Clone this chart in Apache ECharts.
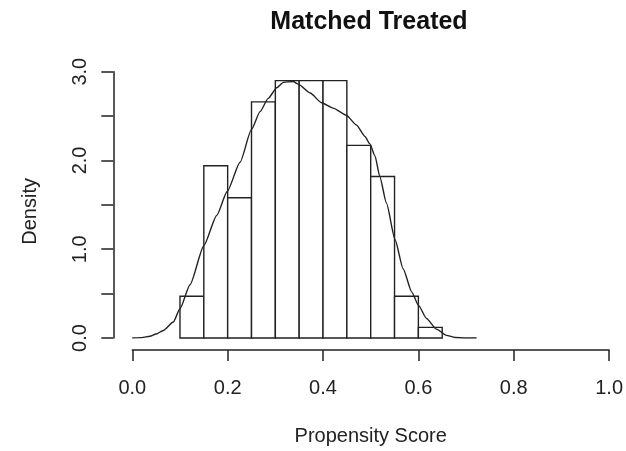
<!DOCTYPE html>
<html>
<head>
<meta charset="utf-8">
<script src="https://cdn.jsdelivr.net/npm/echarts@6/dist/echarts.min.js"></script>
<style>html,body{margin:0;padding:0;background:#fff}#c{width:626px;height:451px}</style>
</head>
<body>
<div id="c"></div>
<script>
// Histogram bins (left edges) and density heights
var binStarts = [0.10, 0.15, 0.20, 0.25, 0.30, 0.35, 0.40, 0.45, 0.50, 0.55, 0.60];
var binWidth = 0.05;
var binDensity = [0.47, 1.94, 1.58, 2.66, 2.90, 2.90, 2.90, 2.17, 1.82, 0.47, 0.12];

// Kernel density curve (x, density)
var curveX = [0.000, 0.020, 0.037, 0.050, 0.065, 0.086, 0.100, 0.121, 0.150, 0.177, 0.199, 0.226, 0.250, 0.268, 0.285, 0.303, 0.317, 0.3375, 0.348, 0.373, 0.397, 0.421, 0.449, 0.470, 0.488, 0.498, 0.509, 0.519, 0.533, 0.551, 0.568, 0.586, 0.600, 0.617, 0.638, 0.659, 0.677, 0.700, 0.722];
var curveY = [0.000, 0.004, 0.020, 0.045, 0.085, 0.18, 0.33, 0.60, 1.04, 1.38, 1.65, 1.98, 2.35, 2.55, 2.70, 2.82, 2.88, 2.89, 2.86, 2.76, 2.65, 2.59, 2.51, 2.40, 2.27, 2.19, 2.05, 1.82, 1.52, 1.11, 0.78, 0.52, 0.37, 0.22, 0.10, 0.03, 0.005, 0.000, 0.000];

var xTicks = [0.0, 0.2, 0.4, 0.6, 0.8, 1.0];
var yLabelled = [0.0, 1.0, 2.0, 3.0];

var titleText = 'Matched Treated';
var xName = 'Propensity Score';
var yName = 'Density';

var histData = binStarts.map(function (s, i) { return [s, s + binWidth, binDensity[i]]; });
var curveData = curveX.map(function (x, i) { return [x, curveY[i]]; });

var FONT = 'Liberation Sans, Arial, sans-serif';
var INK = '#222';

var chart = echarts.init(document.getElementById('c'), null, {renderer: 'canvas'});
chart.setOption({
  backgroundColor: '#fff',
  animation: false,
  title: {
    text: titleText,
    left: 369, top: 10, textAlign: 'center', padding: 0,
    textStyle: {fontFamily: FONT, fontWeight: 'bold', fontSize: 25, color: '#111'}
  },
  grid: {left: 132.3, right: 16.7, top: 71.7, bottom: 111.7},
  xAxis: {
    type: 'value', min: 0, max: 1, interval: 0.2, offset: 12,
    name: xName, nameLocation: 'middle', nameGap: 76,
    nameTextStyle: {fontFamily: FONT, fontSize: 20, color: '#222'},
    axisLine: {show: true, onZero: false, lineStyle: {color: INK, width: 1.5}},
    axisTick: {show: true, length: 11, lineStyle: {color: INK, width: 1.5}},
    axisLabel: {margin: 28, fontFamily: FONT, fontSize: 20, color: '#222',
      formatter: function (v) { return v.toFixed(1); }},
    splitLine: {show: false}
  },
  yAxis: {
    type: 'value', min: 0, max: 3, interval: 0.5, offset: 19,
    name: yName, nameLocation: 'middle', nameGap: 73,
    nameTextStyle: {fontFamily: FONT, fontSize: 20, color: '#222', padding: [0, 13, 0, 0]},
    axisLine: {show: true, onZero: false, lineStyle: {color: INK, width: 1.5}},
    axisTick: {show: true, length: 12, lineStyle: {color: INK, width: 1.5}},
    axisLabel: {margin: 23, rotate: 90, fontFamily: FONT, fontSize: 20, color: '#222',
      formatter: function (v) {
        for (var i = 0; i < yLabelled.length; i++) { if (Math.abs(v - yLabelled[i]) < 1e-9) return v.toFixed(1); }
        return '';
      }},
    splitLine: {show: false}
  },
  series: [
    {
      type: 'custom',
      data: histData,
      encode: {x: [0, 1], y: 2},
      renderItem: function (params, api) {
        var p0 = api.coord([api.value(0), api.value(2)]);
        var p1 = api.coord([api.value(1), 0]);
        return {
          type: 'rect',
          shape: {x: p0[0], y: p0[1], width: p1[0] - p0[0], height: p1[1] - p0[1]},
          style: {fill: '#fff', stroke: INK, lineWidth: 1.4}
        };
      },
      z: 2
    },
    {
      type: 'line',
      data: curveData,
      smooth: 0.2,
      smoothMonotone: 'x',
      symbol: 'none',
      lineStyle: {color: INK, width: 1.4},
      z: 3
    }
  ]
});
</script>
</body>
</html>
